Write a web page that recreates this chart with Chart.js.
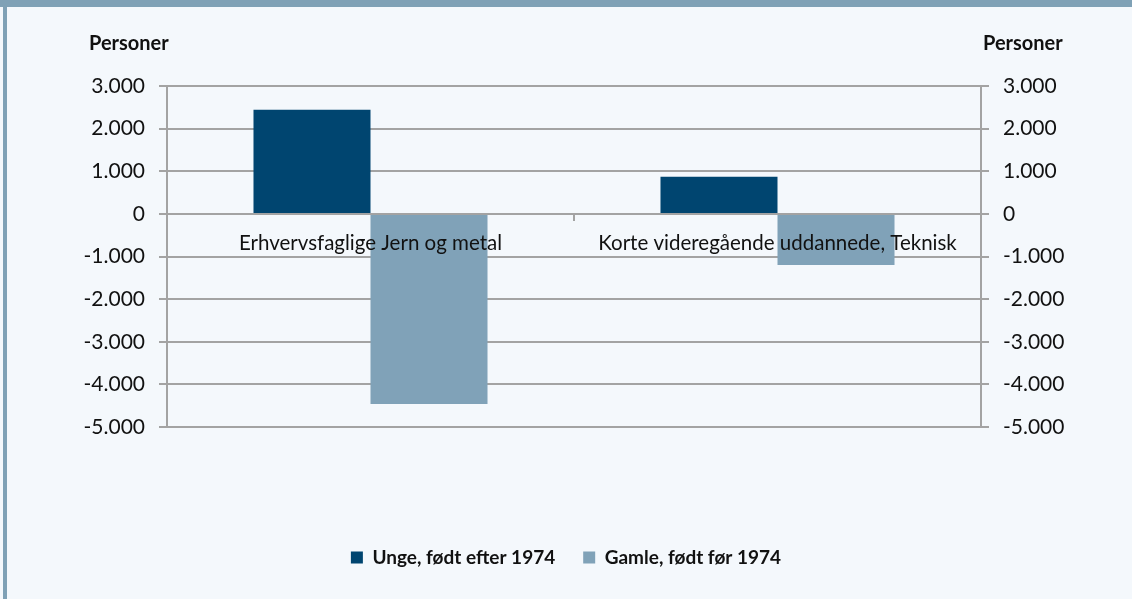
<!DOCTYPE html>
<html>
<head>
<meta charset="utf-8">
<script src="https://cdn.jsdelivr.net/npm/chart.js@4"></script>
<style>
  body { margin: 0; background: #f4f8fc; }
  #frame { position: relative; width: 1132px; height: 599px; overflow: hidden; background: #f4f8fc; }
  #topbar { position: absolute; left: 0; top: 0; width: 1132px; height: 7px; background: #7fa1b6; }
  #leftbar { position: absolute; left: 3px; top: 0; width: 4px; height: 599px; background: #7fa1b6; }
  canvas { position: absolute; left: 0; top: 0; }
</style>
</head>
<body>
<div id="frame">
  <div id="topbar"></div>
  <div id="leftbar"></div>
  <canvas id="chart" width="1132" height="599"></canvas>
</div>
<script>
// ---- data ----
const categories = ["Erhvervsfaglige Jern og metal", "Korte videregående uddannede, Teknisk"];
const seriesNames = ["Unge, født efter 1974", "Gamle, født før 1974"];
const ungeValues = [2440, 870];
const gamleValues = [-4460, -1200];
const yTicks = [-5000, -4000, -3000, -2000, -1000, 0, 1000, 2000, 3000];
const yTickLabels = ["-5.000", "-4.000", "-3.000", "-2.000", "-1.000", "0", "1.000", "2.000", "3.000"];
const axisTitle = "Personer";

const GRID = "#a3a3a3";
const FONT = "Lato";

// "Personer" over both y axes
const axisTitles = {
  id: "axisTitles",
  afterDraw(chart) {
    const ctx = chart.ctx;
    const area = chart.chartArea;
    ctx.save();
    ctx.font = "bold 20px " + FONT;
    ctx.fillStyle = "#111";
    ctx.textBaseline = "middle";
    ctx.textAlign = "left";
    ctx.fillText(axisTitle, area.left - 78, 44);
    ctx.fillText(axisTitle, area.right + 2, 44);
    ctx.restore();
  }
};

function yAxis(position, onChart) {
  return {
    position: position,
    min: -5000,
    max: 3000,
    afterBuildTicks: s => { s.ticks = yTicks.map(v => ({ value: v })); },
    afterFit: s => { s.width = position === "left" ? 167 : 151; },
    grid: {
      drawOnChartArea: onChart,
      color: GRID,
      lineWidth: 2,
      tickLength: 8
    },
    border: { color: GRID, width: 2 },
    ticks: {
      padding: 14,
      color: "#111",
      font: { family: FONT, size: 21 },
      callback: v => yTickLabels[yTicks.indexOf(v)]
    }
  };
}

new Chart(document.getElementById("chart"), {
  type: "bar",
  data: {
    labels: categories,
    datasets: [
      { label: seriesNames[0], data: ungeValues, backgroundColor: "#004570", borderWidth: 0, yAxisID: "y" },
      { label: seriesNames[1], data: gamleValues, backgroundColor: "#80a2b8", borderWidth: 0, yAxisID: "y" }
    ]
  },
  options: {
    responsive: false,
    animation: false,
    devicePixelRatio: 1,
    categoryPercentage: 0.575,
    barPercentage: 1,
    layout: { padding: { top: 86, bottom: 22, left: 0, right: 0 } },
    plugins: {
      tooltip: { enabled: false },
      legend: {
        position: "bottom",
        title: { display: true, text: "", font: { size: 10, lineHeight: 1 }, padding: { top: 83, bottom: 0 } },
        labels: {
          boxWidth: 12,
          boxHeight: 12,
          padding: 28,
          color: "#111",
          font: { family: FONT, size: 19, weight: "bold" }
        }
      }
    },
    scales: {
      x: {
        position: { y: 0 },
        grid: { drawOnChartArea: false, offset: true, color: GRID, lineWidth: 2, tickLength: 6 },
        border: { color: GRID, width: 2, z: 1 },
        ticks: { z: 1, padding: 11, color: "#111", maxRotation: 0, autoSkip: false, font: { family: FONT, size: 20.5 } }
      },
      y: yAxis("left", true),
      y2: yAxis("right", false)
    }
  },
  plugins: [axisTitles]
});
</script>
</body>
</html>
